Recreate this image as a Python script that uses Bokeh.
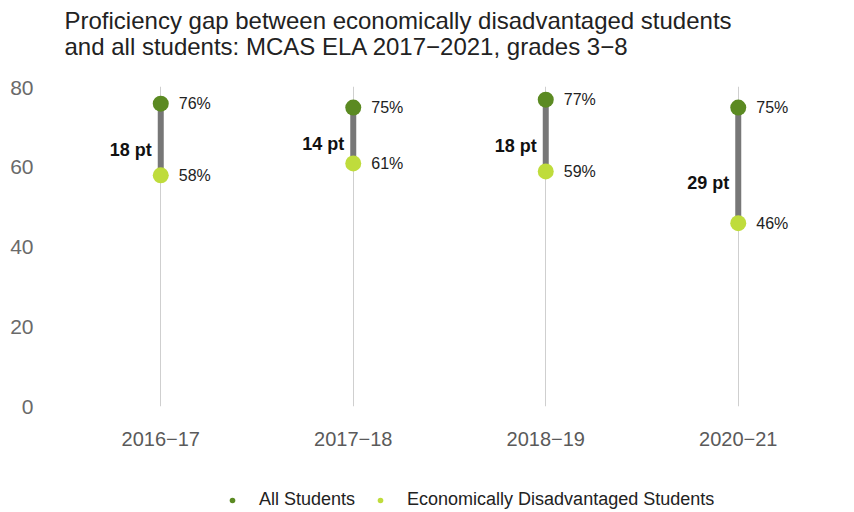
from bokeh.plotting import figure
from bokeh.layouts import column
from bokeh.models import ColumnDataSource, Range1d, FactorRange, Legend, LegendItem, Label
from bokeh.core.properties import value
from bokeh.embed import file_html
from bokeh.resources import INLINE

years = ["2016\u221217", "2017\u221218", "2018\u221219", "2020\u221221"]
all_students = [76, 75, 77, 75]
econ_disadv = [58, 61, 59, 46]
gaps = [a - e for a, e in zip(all_students, econ_disadv)]
y_ticks = [0, 20, 40, 60, 80]
title_lines = ["Proficiency gap between economically disadvantaged students",
               "and all students: MCAS ELA 2017\u22122021, grades 3\u22128"]

FONT = "Liberation Sans"
DARK = "#5b8a22"
LIGHT = "#bfdc3c"

src = ColumnDataSource(dict(
    year=years,
    all=all_students,
    econ=econ_disadv,
    all_lbl=[f"{v}%" for v in all_students],
    econ_lbl=[f"{v}%" for v in econ_disadv],
    gap_lbl=[f"{g} pt" for g in gaps],
    gap_y=[e + 0.35 * g for e, g in zip(econ_disadv, gaps)],
))

# title strip (pixel-like coordinates: x from page left, y from strip top)
ts = figure(width=854, height=76, x_range=Range1d(42, 834), y_range=Range1d(76, 0),
            output_backend="svg", toolbar_location=None,
            min_border_left=42, min_border_right=20, min_border_top=0, min_border_bottom=0)
ts.axis.visible = False
ts.grid.visible = False
ts.outline_line_color = None
for txt, yy in zip(title_lines, [20, 46]):
    ts.add_layout(Label(x=42, y=yy, text=txt, text_font=FONT, text_font_size="24px",
                        text_color="#222222", text_baseline="middle", text_align="left"))

p = figure(width=854, height=396, x_range=FactorRange(*years), y_range=Range1d(0, 80.3),
           output_backend="svg", toolbar_location=None,
           min_border_left=64, min_border_right=20, min_border_top=10, min_border_bottom=66)

p.outline_line_color = None
p.ygrid.grid_line_color = None
p.xgrid.grid_line_color = "#cfcfcf"
p.xgrid.grid_line_width = 1

p.yaxis.ticker = y_ticks
p.yaxis.axis_line_color = None
p.yaxis.major_tick_line_color = None
p.yaxis.minor_tick_line_color = None
p.yaxis.major_label_text_font = FONT
p.yaxis.major_label_text_font_size = "21px"
p.yaxis.major_label_text_color = "#6a6a6a"
p.yaxis.major_label_standoff = 25

p.xaxis.axis_line_color = None
p.xaxis.major_tick_line_color = None
p.xaxis.major_label_text_font = FONT
p.xaxis.major_label_text_font_size = "20px"
p.xaxis.major_label_text_color = "#5a5a5a"
p.xaxis.major_label_standoff = 19

p.segment(x0="year", y0="econ", x1="year", y1="all", source=src, line_color="#777777", line_width=6)
p.scatter(x="year", y="all", source=src, size=16, fill_color=DARK, line_color=None)
p.scatter(x="year", y="econ", source=src, size=16, fill_color=LIGHT, line_color=None)

p.text(x="year", y="all", text="all_lbl", source=src, x_offset=18, text_baseline="middle",
       text_font=value(FONT), text_font_size="16px", text_color="#222222")
p.text(x="year", y="econ", text="econ_lbl", source=src, x_offset=18, text_baseline="middle",
       text_font=value(FONT), text_font_size="16px", text_color="#222222")
p.text(x="year", y="gap_y", text="gap_lbl", source=src, x_offset=-9, text_align="right",
       text_baseline="middle", text_font=value(FONT), text_font_size="18px",
       text_font_style="bold", text_color="#111111")

# separate legend strip
lg = figure(width=854, height=40, x_range=Range1d(0, 1), y_range=Range1d(0, 1),
            output_backend="svg", toolbar_location=None, min_border=0)
lg.axis.visible = False
lg.grid.visible = False
lg.outline_line_color = None
l_all = lg.scatter(x=[-5], y=[-5], size=8, fill_color=DARK, line_color=None)
l_econ = lg.scatter(x=[-5], y=[-5], size=8, fill_color=LIGHT, line_color=None)
legend = Legend(items=[LegendItem(label="All Students", renderers=[l_all]),
                       LegendItem(label="Economically Disadvantaged Students", renderers=[l_econ])],
                orientation="horizontal", location=(161, 2),
                label_text_font=FONT, label_text_font_size="18px", label_text_color="#222222",
                border_line_color=None, background_fill_alpha=0,
                glyph_width=14, label_standoff=20, spacing=18, margin=0, padding=0)
lg.add_layout(legend)

open("out.html", "w").write(file_html(column(ts, p, lg, spacing=0), INLINE))
